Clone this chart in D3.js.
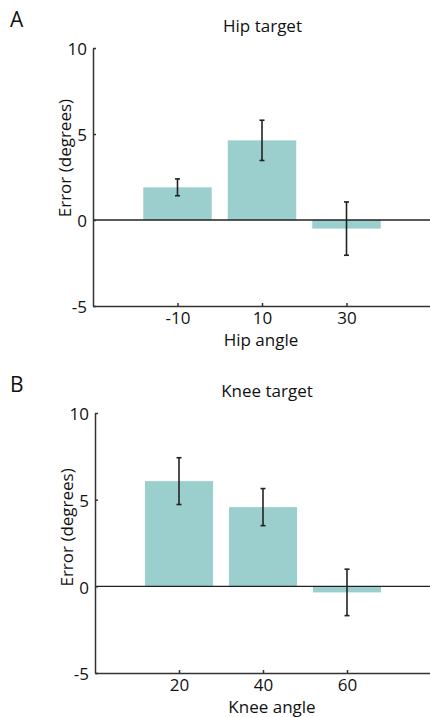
<!DOCTYPE html>
<html>
<head>
<meta charset="utf-8">
<script src="https://cdn.jsdelivr.net/npm/d3@7"></script>
<style>
  body { margin: 0; background: #fff; }
  svg text { font-family: "Open Sans", "Noto Sans", sans-serif; fill: #111; }
  .axis path, .axis line { stroke: #333; stroke-width: 1.5; }
  .axis text { font-size: 17px; }
</style>
</head>
<body>
<div id="chart"></div>
<script>
// panel A: hip target
const hipAngles = [-10, 10, 30];
const hipError = [1.9, 4.63, -0.5];
const hipSem = [0.49, 1.17, 1.55];

// panel B: knee target
const kneeAngles = [20, 40, 60];
const kneeError = [6.07, 4.57, -0.35];
const kneeSem = [1.35, 1.07, 1.34];

const yTicks = [-5, 0, 5, 10];

const width = 430, height = 717;
const barColor = "#9acfce";
// plain hyphen for negatives, like the original figure
const fmt = d => String(d);

const svg = d3.select("#chart")
    .append("svg")
    .attr("width", width)
    .attr("height", height);

/**
 * draws one bar panel with error bars
 */
function drawPanel(opt) {
    const g = svg.append("g");
    const data = opt.angles.map((a, i) => ({ angle: a, err: opt.errors[i], sem: opt.sem[i] }));

    const xscale = d3.scaleLinear()
        .domain(opt.xDomain)
        .range([opt.left, width + 1]);
    const yscale = d3.scaleLinear()
        .domain([-5, 10])
        .range([opt.bottom, opt.top]);

    const step = xscale(opt.angles[1]) - xscale(opt.angles[0]);
    const barW = step * 0.81;
    const mid = (xscale(opt.angles[0]) + xscale(opt.angles[2])) / 2;

    // bars
    g.selectAll("rect.bar")
        .data(data)
        .join("rect")
        .attr("class", "bar")
        .attr("x", d => xscale(d.angle) - barW / 2)
        .attr("width", barW)
        .attr("y", d => yscale(Math.max(0, d.err)))
        .attr("height", d => Math.abs(yscale(d.err) - yscale(0)))
        .attr("fill", barColor);

    // zero line
    g.append("line")
        .attr("x1", xscale.range()[0])
        .attr("x2", xscale.range()[1])
        .attr("y1", yscale(0))
        .attr("y2", yscale(0))
        .attr("stroke", "#222")
        .attr("stroke-width", 1.4);

    // axes
    g.append("g")
        .attr("class", "axis x_axis")
        .attr("transform", `translate(0, ${opt.bottom})`)
        .call(d3.axisBottom(xscale)
            .tickValues(opt.angles)
            .tickFormat(fmt)
            .tickSize(-3)
            .tickSizeOuter(0)
            .tickPadding(6));

    g.append("g")
        .attr("class", "axis y_axis")
        .attr("transform", `translate(${opt.left}, 0)`)
        .call(d3.axisLeft(yscale)
            .tickValues(yTicks)
            .tickFormat(fmt)
            .tickSize(-3)
            .tickSizeOuter(0)
            .tickPadding(6))
        .selectAll("text")
        .attr("dy", "0.4em");

    // error bars
    const cap = 2.5;
    const eb = g.selectAll("g.errbar")
        .data(data)
        .join("g")
        .attr("class", "errbar")
        .attr("stroke", "#222")
        .attr("stroke-width", 1.6);
    eb.append("line")
        .attr("x1", d => xscale(d.angle))
        .attr("x2", d => xscale(d.angle))
        .attr("y1", d => yscale(d.err + d.sem))
        .attr("y2", d => yscale(d.err - d.sem));
    eb.append("line")
        .attr("x1", d => xscale(d.angle) - cap)
        .attr("x2", d => xscale(d.angle) + cap)
        .attr("y1", d => yscale(d.err + d.sem))
        .attr("y2", d => yscale(d.err + d.sem));
    eb.append("line")
        .attr("x1", d => xscale(d.angle) - cap)
        .attr("x2", d => xscale(d.angle) + cap)
        .attr("y1", d => yscale(d.err - d.sem))
        .attr("y2", d => yscale(d.err - d.sem));

    // labels
    g.append("text")
        .attr("x", 10)
        .attr("y", opt.top - 21)
        .attr("font-size", 21)
        .text(opt.letter);
    g.append("text")
        .attr("x", mid + opt.titleDx)
        .attr("y", opt.top - 16)
        .attr("text-anchor", "middle")
        .attr("font-size", 17)
        .text(opt.title);
    g.append("text")
        .attr("x", mid + opt.xlabelDx)
        .attr("y", opt.bottom + 40)
        .attr("text-anchor", "middle")
        .attr("font-size", 17)
        .text(opt.xlabel);
    g.append("text")
        .attr("transform", `translate(${opt.left - 22}, ${yscale(opt.ylabelAt)}) rotate(-90)`)
        .attr("text-anchor", "middle")
        .attr("font-size", 17)
        .text("Error (degrees)");
}

drawPanel({
    angles: hipAngles, errors: hipError, sem: hipSem,
    xDomain: [-30, 50], left: 93, top: 48, bottom: 306,
    titleDx: 0.5, xlabelDx: -1, ylabelAt: 3.6,
    letter: "A", title: "Hip target", xlabel: "Hip angle"
});

drawPanel({
    angles: kneeAngles, errors: kneeError, sem: kneeSem,
    xDomain: [0, 80], left: 95, top: 413, bottom: 673,
    titleDx: 4, xlabelDx: 9, ylabelAt: 3.4,
    letter: "B", title: "Knee target", xlabel: "Knee angle"
});
</script>
</body>
</html>
